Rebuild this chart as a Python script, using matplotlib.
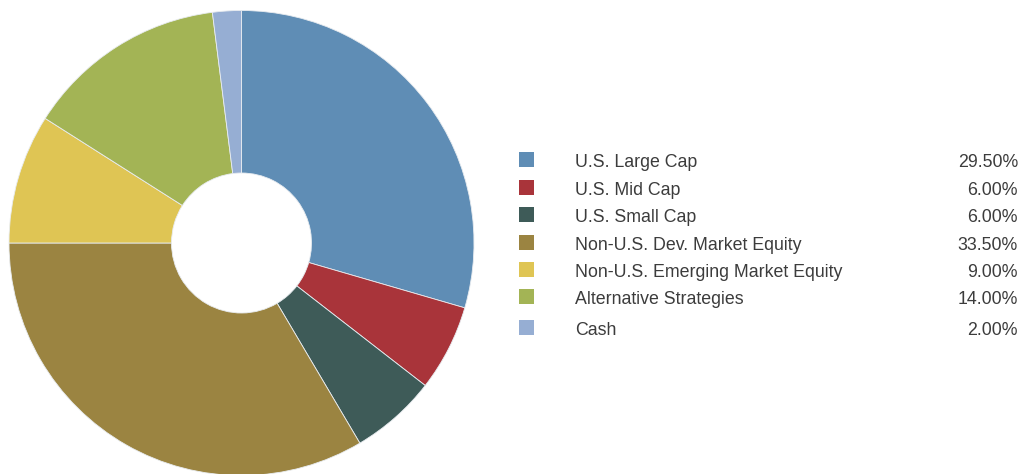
import matplotlib
matplotlib.use("Agg")
import matplotlib.pyplot as plt
from matplotlib.patches import Rectangle

categories = ["U.S. Large Cap", "U.S. Mid Cap", "U.S. Small Cap",
              "Non-U.S. Dev. Market Equity", "Non-U.S. Emerging Market Equity",
              "Alternative Strategies", "Cash"]
weights = [29.50, 6.00, 6.00, 33.50, 9.00, 14.00, 2.00]
colors = ["#5f8db5", "#a9343a", "#3e5b58", "#9b8441", "#dfc554", "#a3b455", "#96aed3"]

W, H = 1020, 474
fig = plt.figure(figsize=(W / 100, H / 100), dpi=100)
plt.rcParams["font.family"] = ["Liberation Sans", "DejaVu Sans"]

# donut placement in pixels
cx, cy, r, hole = 241.5, 243, 232.5, 70
ax = fig.add_axes([(cx - r) / W, (H - cy - r) / H, 2 * r / W, 2 * r / H])
ax.pie(weights, colors=colors, startangle=90, counterclock=False, radius=1,
       wedgeprops=dict(width=1 - hole / r, edgecolor="#e8ecf0", linewidth=0.6))
ax.set_xlim(-1, 1)
ax.set_ylim(-1, 1)
ax.set_aspect("equal")
ax.axis("off")

# legend table (text baselines in pixels from the top)
baselines = [167, 195, 222, 250, 277, 304, 335]
for name, val, col, yb in zip(categories, weights, colors, baselines):
    fig.patches.append(Rectangle((519 / W, (H - yb) / H), 15 / W, 15 / H,
                                 transform=fig.transFigure, facecolor=col,
                                 edgecolor="none"))
    fig.text(575 / W, (H - yb) / H, name, fontsize=12.8, color="#3c3c3c",
             va="baseline", ha="left")
    fig.text(1018 / W, (H - yb) / H, f"{val:.2f}%", fontsize=12.8, color="#3c3c3c",
             va="baseline", ha="right")

fig.savefig("out.png", dpi=100)
